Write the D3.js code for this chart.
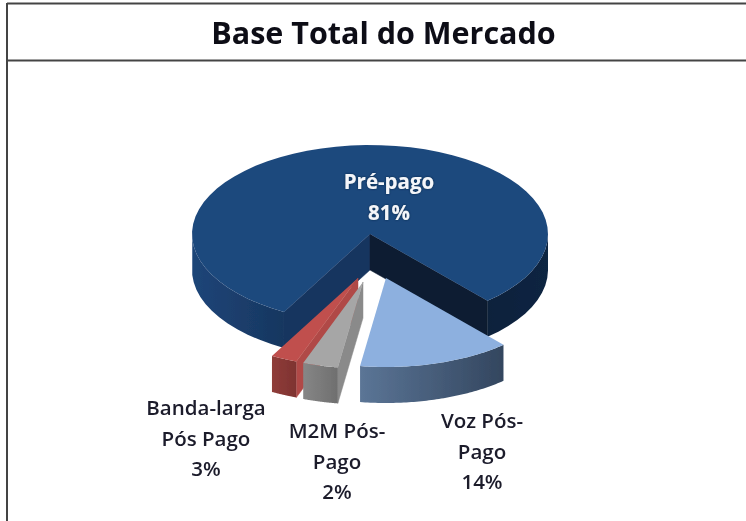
<!DOCTYPE html>
<html><head><meta charset="utf-8">
<script src="https://cdn.jsdelivr.net/npm/d3@7"></script>
<style>html,body{margin:0;padding:0;background:#fff}svg{display:block}text{font-family:"Open Sans",sans-serif}</style>
</head><body><div id="c"></div>
<script>
const title = "Base Total do Mercado";
const categories = ["Pré-pago", "Voz Pós-Pago", "M2M Pós-Pago", "Banda-larga Pós Pago"];
const sliceShares = [80.5, 13.8, 3.3, 2.4];
const percentLabels = ["81%", "14%", "2%", "3%"];
const labelLines = [["Pré-pago"], ["Voz Pós-", "Pago"], ["M2M Pós-", "Pago"], ["Banda-larga", "Pós Pago"]];

const W = 746, H = 521;
const cx = 370, cy = 234, rx = 178, ry = 89, depth = 36;
const paintOrder = [0,3,2,1];
const explode = [[0,0],[16,44],[-7,48],[-12,44]];
const radiusK = [1,1,0.97,1];
const labelPos = [[389,189],[482,428],[337,438],[206,415]];
const lineGap = 30.5;
const topColors = ["#1f497d","#8db0df","#a6a6a6","#c0504d"];
const startWall = ["#17355f","#33465f","#8a8a8a","#b04a46"];
const endWall = ["#0b1b30","#5a7394","#7f7f7f","#8c3a38"];
const wallStops = [
  [[0,"#1e4578"],[0.3,"#16345c"],[0.75,"#0c1f38"],[1,"#0f2542"]],
  [[0,"#5b7596"],[1,"#33465f"]],
  [[0,"#868686"],[1,"#6f6f6f"]],
  [[0,"#8f3c39"],[1,"#7e3331"]]
];

const svg = d3.select("#c").append("svg").attr("width",W).attr("height",H);
const defs = svg.append("defs");
defs.append("filter").attr("id","soft").append("feGaussianBlur").attr("stdDeviation",0.45);
defs.append("filter").attr("id","softText").append("feGaussianBlur").attr("stdDeviation",0.3);
const glow = defs.append("filter").attr("id","glow").attr("x","-20%").attr("y","-20%").attr("width","140%").attr("height","140%");
glow.append("feDropShadow").attr("dx",0).attr("dy",0).attr("stdDeviation",1).attr("flood-color","#0c2340").attr("flood-opacity",0.9);

const pie = d3.pie().sort(null)
  .startAngle(208.9*Math.PI/180)
  .endAngle((208.9+360)*Math.PI/180);
const arcs = pie(sliceShares);
const line = d3.line();
const pt = (a,i,r=1,dz=0)=>[
  cx+explode[i][0]+rx*radiusK[i]*r*Math.sin(a),
  cy+explode[i][1]+ry*radiusK[i]*r*(-Math.cos(a))+dz
];
const samples = (a0,a1)=>d3.range(0,61).map(k=>a0+(a1-a0)*k/60);

const g = svg.append("g").attr("filter","url(#soft)");

paintOrder.forEach(i=>{
  const d = arcs[i];
  const sg = g.append("g");
  const gid = "wall"+i;
  const xs = samples(d.startAngle,d.endAngle).map(a=>pt(a,i)[0]);
  const lg = defs.append("linearGradient").attr("id",gid).attr("gradientUnits","userSpaceOnUse")
    .attr("x1",d3.min(xs)).attr("x2",d3.max(xs)).attr("y1",0).attr("y2",0);
  wallStops[i].forEach(s=>lg.append("stop").attr("offset",s[0]).attr("stop-color",s[1]));

  const face = (a,col)=>{
    const o=pt(0,i,0), e=pt(a,i);
    sg.append("path").attr("fill",col).attr("stroke",col).attr("stroke-width",0.5)
      .attr("d",line([o,e,[e[0],e[1]+depth],[o[0],o[1]+depth]])+"Z");
  };
  const faces = [];
  if (Math.cos(d.startAngle-Math.PI/2)<0) faces.push([d.startAngle,startWall[i]]);
  if (Math.cos(d.endAngle+Math.PI/2)<0) faces.push([d.endAngle,endWall[i]]);
  faces.forEach(f=>face(f[0],f[1]));

  const vis = samples(d.startAngle,d.endAngle).filter(a=>Math.cos(a)<0);
  if (vis.length){
    const runs=[]; let run=[vis[0]];
    const step=(d.endAngle-d.startAngle)/60;
    for(let k=1;k<vis.length;k++){ if(vis[k]-vis[k-1]>step*1.5){runs.push(run);run=[];} run.push(vis[k]); }
    runs.push(run);
    runs.forEach(r=>{
      const top=r.map(a=>pt(a,i));
      const bot=r.map(a=>pt(a,i,1,depth)).reverse();
      sg.append("path").attr("fill",`url(#${gid})`).attr("d",line(top.concat(bot))+"Z");
    });
  }
  const tp=[pt(0,i,0)].concat(samples(d.startAngle,d.endAngle).map(a=>pt(a,i)));
  sg.append("path").attr("fill",topColors[i]).attr("d",line(tp)+"Z");
});

const frame = svg.append("g").attr("stroke","#444").attr("stroke-width",2).attr("fill","none");
frame.append("line").attr("x1",7).attr("x2",W).attr("y1",3.5).attr("y2",3.5);
frame.append("line").attr("x1",7).attr("x2",W).attr("y1",60.5).attr("y2",60.5);
frame.append("line").attr("x1",7).attr("x2",7).attr("y1",3).attr("y2",H);

svg.append("text").attr("x",383.5).attr("y",44).attr("text-anchor","middle")
  .attr("font-size",30.5).attr("font-weight",700).attr("fill","#0b0b14").attr("filter","url(#softText)").text(title);

categories.forEach((c,i)=>{
  const lines = labelLines[i].concat([percentLabels[i]]);
  const t = svg.append("text").attr("text-anchor","middle").attr("font-size",20.5)
    .attr("font-weight",i===0?700:600)
    .attr("fill",i===0?"#f4f6fa":"#1a1a2a")
    .attr("filter",i===0?"url(#glow)":"url(#softText)");
  lines.forEach((l,k)=>t.append("tspan").attr("x",labelPos[i][0]).attr("y",labelPos[i][1]+k*lineGap).text(l));
});
</script></body></html>
